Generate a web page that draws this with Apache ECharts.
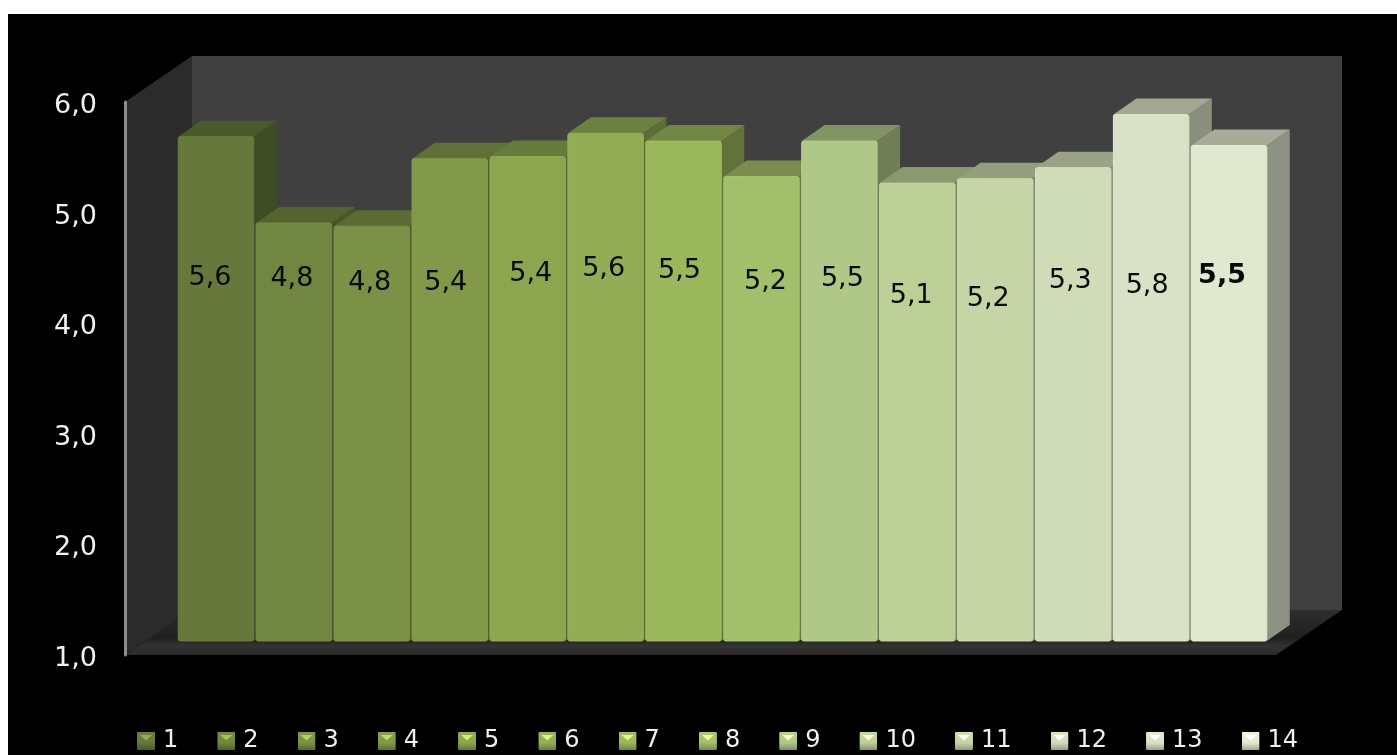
<!DOCTYPE html>
<html><head><meta charset="utf-8">
<style>html,body{margin:0;padding:0;background:#fff;overflow:hidden}
#c{position:absolute;left:8px;top:14px;width:1389px;height:741px}</style>
<script src="https://cdn.jsdelivr.net/npm/echarts@6/dist/echarts.min.js"></script>
</head><body><div id="c"></div>
<script>
const categories = ['1','2','3','4','5','6','7','8','9','10','11','12','13','14'];
const values = [5.56,4.78,4.75,5.36,5.38,5.59,5.52,5.2,5.52,5.14,5.18,5.28,5.76,5.48];
const tickLabels = ['1,0','2,0','3,0','4,0','5,0','6,0'];
const barColors = ['#66793a','#71873f','#7b9146','#82994a','#8ba64f','#92ad56','#9bb75c','#a2bf6b','#b0c887','#bccf96','#c6d5a6','#d0dcb8','#d9e1c6','#e1e8d0'];
const labelNudgeX = [-6,-2,-2,-4,3,-2,-4,4,3,-6,-7,-3,-4,-7];
const labelY = [278,279,283,283,274,269,271,282,279,296,299,281,286,276];

const OX = 8, OY = 14;
const P = pts => pts.map(p => [p[0]-OX, p[1]-OY]);
const DX = 23, DY = -16;
function shade(hex, k){
  const n = parseInt(hex.slice(1),16);
  const c = [n>>16&255,n>>8&255,n&255].map(v => Math.max(0,Math.min(255,Math.round(v*k))));
  return 'rgb('+c.join(',')+')';
}
function icon(hex){
  const t=shade(hex,1.45), a=shade(hex,1.05), m=shade(hex,1.0), d=shade(hex,.72);
  const svg = `<svg xmlns="http://www.w3.org/2000/svg" width="18" height="18"><defs><linearGradient id="g" x1="0" y1="0" x2="0" y2="1"><stop offset="0" stop-color="${a}"/><stop offset=".6" stop-color="${m}"/><stop offset="1" stop-color="${d}"/></linearGradient></defs><rect width="18" height="18" rx="1" fill="url(#g)"/><path d="M3 3H15L9 8.5Z" fill="${t}"/></svg>`;
  return 'image://data:image/svg+xml;charset=utf-8,'+encodeURIComponent(svg);
}
function renderBar(idx){
  return function(params, api){
    const i = api.value(0), v = api.value(1);
    const top = api.coord([i, v]), base = api.coord([i, 1]);
    const bw = api.size([1,0])[0] - 2.5;
    const x0 = top[0]-bw/2, x1 = top[0]+bw/2, y0 = top[1], y1 = base[1];
    const c = barColors[idx];
    return {type:'group', children:[
      {type:'polygon', shape:{points:[[x1,y0],[x1+DX,y0+DY],[x1+DX,y1+DY],[x1,y1]]}, style:{fill:shade(c,.63)}},
      {type:'polygon', shape:{points:[[x0,y0],[x0+DX,y0+DY],[x1+DX,y0+DY],[x1,y0]]}, style:{fill:shade(c,.74)}},
      {type:'rect', shape:{x:x0,y:y0,width:bw,height:y1-y0,r:2},
        style:{fill:c, stroke:shade(c,1.03), lineWidth:1}},
      {type:'text', x:top[0]+labelNudgeX[idx], y:labelY[idx]-OY,
        style:{text:v.toFixed(1).replace('.',','), fill:'#0a0a0a', align:'center', verticalAlign:'middle',
          font:(idx===13?'bold ':'')+'27px "DejaVu Sans"'}}
    ]};
  };
}
const chart = echarts.init(document.getElementById('c'));
chart.setOption({
  animation:false,
  backgroundColor:'#000',
  graphic:{elements:[
    {type:'polygon', silent:true, z:0, shape:{points:P([[192,56],[1342,56],[1342,610],[192,610]])}, style:{fill:'#404040'}},
    {type:'polygon', silent:true, z:0, shape:{points:P([[125,102],[192,56],[192,610],[125,655]])}, style:{fill:'#2b2b2b'}},
    {type:'polygon', silent:true, z:0, shape:{points:P([[125,655],[192,610],[1342,610],[1276,655]])},
      style:{fill:new echarts.graphic.LinearGradient(0,0,0,1,[
        {offset:0,color:'#2e2e2e'},{offset:.62,color:'#1f1f1f'},{offset:.8,color:'#333333'},{offset:1,color:'#2a2a2a'}])}}
  ]},
  grid:[
    {left:169, top:74, width:1091, height:553},
    {left:117, top:88, width:1151, height:553}
  ],
  xAxis:[
    {gridIndex:0, type:'category', data:categories, show:false},
    {gridIndex:1, type:'category', data:categories, show:false}
  ],
  yAxis:[
    {gridIndex:0, type:'value', min:1, max:6, interval:1, show:false},
    {gridIndex:1, type:'value', min:1, max:6, interval:1,
      axisLine:{show:true, lineStyle:{color:'#8c8c8c', width:3}},
      axisTick:{show:false}, splitLine:{show:false},
      axisLabel:{margin:28, color:'#f0f0f0', fontFamily:'DejaVu Sans', fontSize:27, verticalAlign:'top', lineHeight:8,
        formatter:(v)=>tickLabels[Math.round(v)-1]}}
  ],
  legend:{
    left:124, top:710, itemWidth:18, itemHeight:18, itemGap:39, selectedMode:false,
    textStyle:{color:'#f0f0f0', fontFamily:'DejaVu Sans', fontSize:24, padding:[0,0,0,3]},
    data:categories.map((n,i)=>({name:n, icon:icon(barColors[i])}))
  },
  series:categories.map((n,i)=>({
    type:'custom', name:n, xAxisIndex:0, yAxisIndex:0, clip:false, z:2+i,
    itemStyle:{color:barColors[i]},
    renderItem:renderBar(i),
    encode:{x:0,y:1},
    data:[[i, values[i]]]
  }))
});
</script></body></html>
